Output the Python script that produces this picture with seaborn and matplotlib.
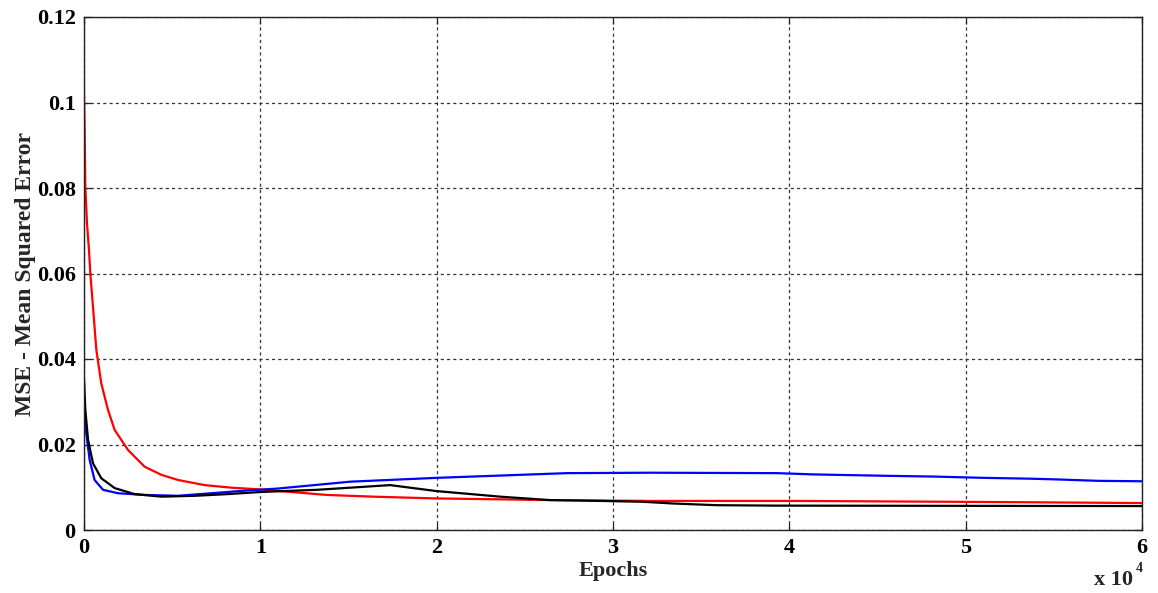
import numpy as np
import pandas as pd
import matplotlib
matplotlib.use("Agg")
import matplotlib.pyplot as plt
import seaborn as sns
from matplotlib.ticker import FuncFormatter

# ---- data ----
red_x = [0, 37, 75, 170, 283, 360, 510, 700, 980, 1360, 1740, 2500, 3440, 4390, 5330,
         6840, 8360, 9960, 13770, 16400, 19800, 26400, 32100, 40600, 53300, 60000]
red_y = [0.1021, 0.0936, 0.0803, 0.0717, 0.0655, 0.0600, 0.0522, 0.0421, 0.0343, 0.0281,
         0.0234, 0.0187, 0.0148, 0.0129, 0.0117, 0.0105, 0.0099, 0.0095, 0.0082, 0.0078,
         0.0074, 0.0070, 0.0068, 0.0068, 0.0065, 0.0063]

blue_x = [0, 130, 320, 600, 1080, 1930, 3440, 5330, 7220, 9110, 11000, 15090, 20000,
          27400, 32100, 39300, 41400, 45200, 48200, 51000, 53700, 55400, 57500, 60000]
blue_y = [0.0312, 0.0226, 0.0164, 0.0117, 0.0094, 0.0086, 0.0082, 0.0080, 0.0086, 0.0092,
          0.0097, 0.0113, 0.0122, 0.0133, 0.0134, 0.0133, 0.0130, 0.0127, 0.0125, 0.0122,
          0.0120, 0.0118, 0.0115, 0.0114]

black_x = [0, 75, 230, 510, 980, 1740, 2870, 4390, 6280, 8170, 10060, 13200, 17360,
           20000, 23600, 26400, 29300, 31700, 33400, 35900, 39300, 60000]
black_y = [0.0355, 0.0281, 0.0211, 0.0156, 0.0121, 0.0098, 0.0084, 0.0078, 0.0080, 0.0084,
           0.0089, 0.0094, 0.0105, 0.0091, 0.0078, 0.0070, 0.0068, 0.0066, 0.0062, 0.0058,
           0.0057, 0.0056]

series_names = ["red", "blue", "black"]
series_colors = ["#ff0000", "#0000ff", "#000000"]

x_ticks = [0, 10000, 20000, 30000, 40000, 50000, 60000]
y_ticks = [0, 0.02, 0.04, 0.06, 0.08, 0.10, 0.12]

# ---- build long table ----
frames = []
for name, xs, ys in zip(series_names, [red_x, blue_x, black_x], [red_y, blue_y, black_y]):
    frames.append(pd.DataFrame({"Epochs": xs, "MSE": ys, "series": name}))
df = pd.concat(frames, ignore_index=True)

sns.set_style("white")
plt.rcParams["font.family"] = ["Liberation Serif", "DejaVu Serif"]
plt.rcParams["font.weight"] = "bold"

fig = plt.figure(figsize=(11.58, 5.93), dpi=100)
ax = fig.add_axes([84/1158, 63/593, (1142-84)/1158, (530-17)/593])

sns.lineplot(data=df, x="Epochs", y="MSE", hue="series", hue_order=series_names,
             palette=dict(zip(series_names, series_colors)), sort=False,
             estimator=None, linewidth=1.6, legend=False, ax=ax)

ax.set_xlim(0, 60000)
ax.set_ylim(0, 0.12)
ax.set_xticks(x_ticks)
ax.set_yticks(y_ticks)
ax.xaxis.set_major_formatter(FuncFormatter(lambda v, p: "%g" % (v / 1e4)))
ax.yaxis.set_major_formatter(FuncFormatter(lambda v, p: "%g" % round(v, 4)))

ax.grid(True, linestyle=(0, (2.5, 2.5)), color="#333333", linewidth=0.9)
for s in ax.spines.values():
    s.set_visible(True)
    s.set_color("#222222")
    s.set_linewidth(1.0)

ax.tick_params(axis="both", which="both", direction="in", length=5, width=0.9,
               top=True, right=True, bottom=True, left=True,
               labelsize=16, pad=6, colors="#222222", labelcolor="black")
for lab in ax.get_xticklabels() + ax.get_yticklabels():
    lab.set_fontweight("bold")

ax.set_xlabel("Epochs", fontsize=16, fontweight="bold", labelpad=2)
ax.set_ylabel("MSE - Mean Squared Error", fontsize=17, fontweight="bold", labelpad=0.5)

# multiplier text like MATLAB
fig.text(1094/1158, 1 - 580/593, "x 10", fontsize=16, fontweight="bold",
         ha="left", va="center")
fig.text(1136/1158, 1 - 569/593, "4", fontsize=10, fontweight="bold",
         ha="left", va="center")

fig.savefig("out.png", dpi=100, facecolor="white")
